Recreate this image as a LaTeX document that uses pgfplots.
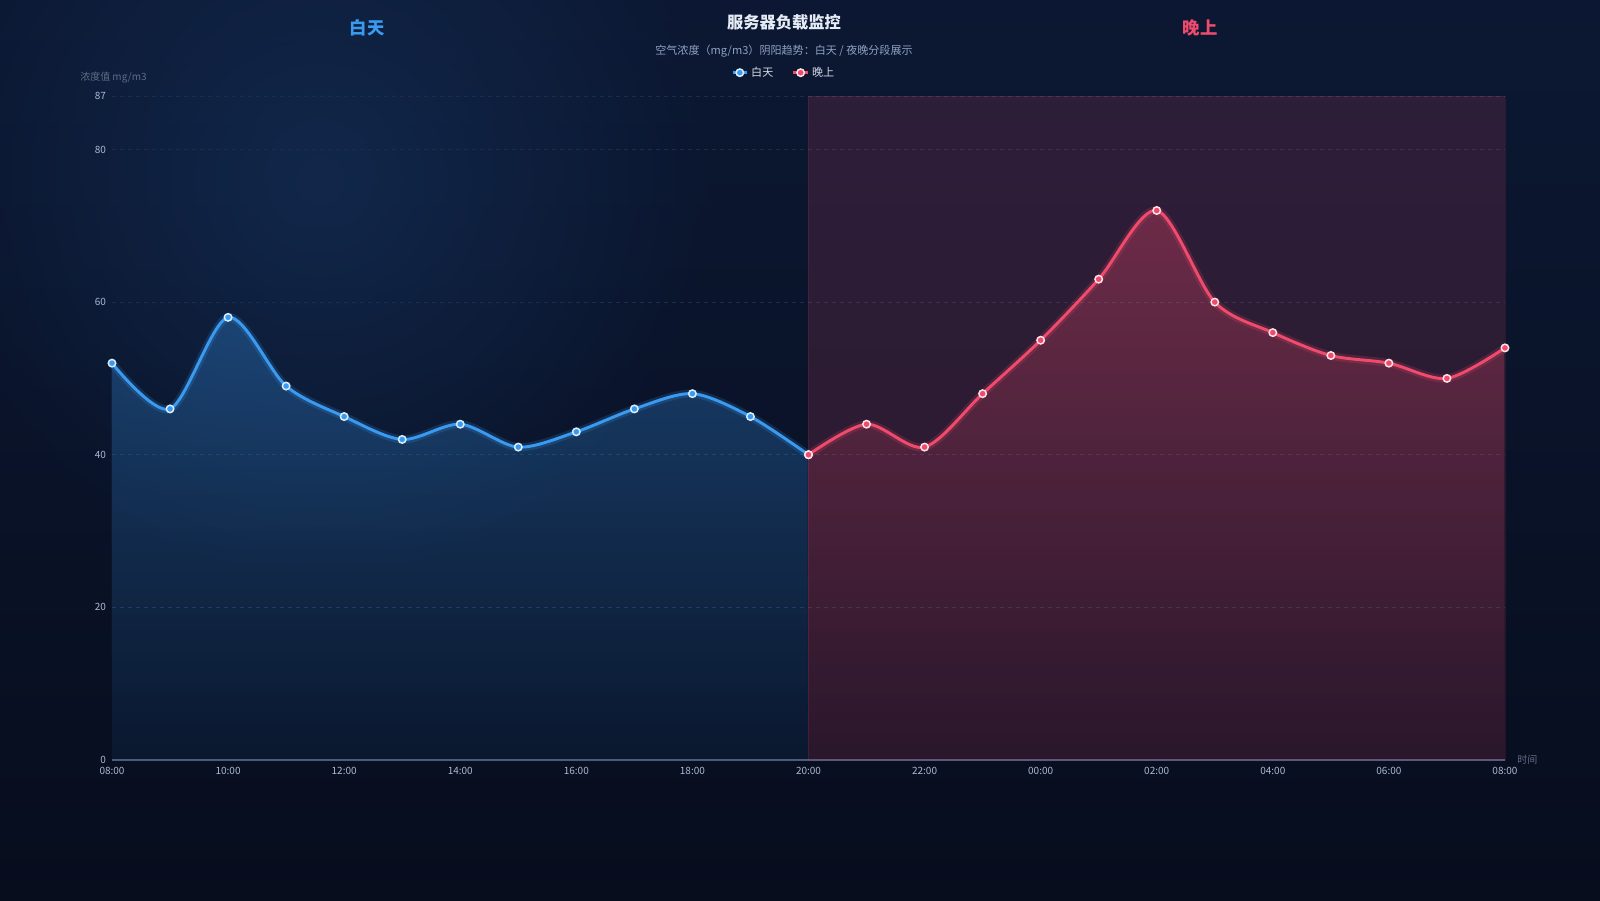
\documentclass[border=0pt]{standalone}
\usepackage{fontspec}
\setmainfont{Noto Sans CJK SC}
\usepackage{pgfplots}
\pgfplotsset{compat=1.18}
\usetikzlibrary{fadings}

\definecolor{bgtop}{HTML}{0C1833}
\definecolor{bgbot}{HTML}{070D1D}
\definecolor{glow}{HTML}{132C52}
\definecolor{dayblue}{HTML}{3A9AF0}
\definecolor{nightred}{HTML}{F04A6C}
\definecolor{ticktext}{HTML}{A9BAD6}
\definecolor{gridc}{HTML}{1E2C48}
\definecolor{namegray}{HTML}{5F6C86}
\definecolor{subc}{HTML}{8EA2C4}
\definecolor{titlec}{HTML}{E6ECF6}
\definecolor{xaxisc}{HTML}{4A5A7A}

\tikzfading[name=glowfade, inner color=transparent!0, outer color=transparent!100]

\begin{document}
\begin{tikzpicture}
\begin{scope}[x=0.75pt,y=-0.75pt]
  \shade[top color=bgtop,bottom color=bgbot] (0,0) rectangle (1600,900);
  \begin{scope}
    \clip (0,0) rectangle (1600,900);
    \fill[glow,path fading=glowfade,fill opacity=0.8] (320,180) circle (400);
  \end{scope}
  \node[font=\fontsize{12.2pt}{14pt}\selectfont\bfseries,text=titlec] at (784,22) {服务器负载监控};
  \node[font=\fontsize{8.3pt}{10pt}\selectfont,text=subc] at (784,51) {空气浓度（mg/m3）阴阳趋势：白天 / 夜晚分段展示};
  \node[font=\fontsize{13pt}{15pt}\selectfont\bfseries,text=dayblue] at (367,28) {白天};
  \node[font=\fontsize{13pt}{15pt}\selectfont\bfseries,text=nightred] at (1200,28) {晚上};
  \node[font=\fontsize{7.5pt}{9pt}\selectfont,text=namegray,anchor=west,inner sep=0pt] at (80,78) {浓度值 mg/m3};
  \node[font=\fontsize{7.5pt}{9pt}\selectfont,text=namegray,anchor=west,inner sep=0pt] at (1517,760) {时间};
\end{scope}

\begin{axis}[
    at={(84pt,-570pt)}, anchor=south west,
    scale only axis, width=1044.75pt, height=498pt,
    xmin=0, xmax=24, ymin=0, ymax=87,
    separate axis lines,
    axis x line*=bottom, axis y line*=left,
    x axis line style={draw=xaxisc,line width=0.8pt,-},
    y axis line style={draw=none},
    major tick length=0pt,
    xtick={0,2,...,24},
    xticklabels={08:00,10:00,12:00,14:00,16:00,18:00,20:00,22:00,00:00,02:00,04:00,06:00,08:00},
    ytick={0,20,40,60,80,87},
    ymajorgrids,
    grid style={draw=gridc,dashed,line width=0.6pt},
    ticklabel style={font=\fontsize{7.5pt}{9pt}\selectfont,text=ticktext},
    /pgf/number format/assume math mode=true,
    xticklabel style={yshift=-2pt},
    yticklabel style={xshift=-1pt},
    legend columns=2,
    legend style={at={(0.4824,1)},anchor=center,yshift=17.5pt,draw=none,fill=none,
      font=\fontsize{8.3pt}{10pt}\selectfont,text=titlec!80!subc,
      /tikz/every even column/.append style={column sep=12pt}},
    legend image code/.code={\draw[mark repeat=2,mark phase=2] plot coordinates {(0cm,0cm)(0.19cm,0cm)(0.38cm,0cm)};},
    clip=false
]
% night band
\fill[nightred,fill opacity=0.15] (axis cs:12,0) rectangle (axis cs:24,87);
\draw[nightred,opacity=0.12,line width=0.6pt] (axis cs:12,0) rectangle (axis cs:24,87);

% areas
\addplot[forget plot,draw=none,fill=dayblue,fill opacity=0.07,smooth,tension=0.5]
  coordinates {(0,52)(1,46)(2,58)(3,49)(4,45)(5,42)(6,44)(7,41)(8,43)(9,46)(10,48)(11,45)(12,40)} \closedcycle;
\addplot[forget plot,draw=none,fill=dayblue,fill opacity=0.26,path fading=south,smooth,tension=0.5]
  coordinates {(0,52)(1,46)(2,58)(3,49)(4,45)(5,42)(6,44)(7,41)(8,43)(9,46)(10,48)(11,45)(12,40)} \closedcycle;
\addplot[forget plot,draw=none,fill=nightred,fill opacity=0.33,path fading=south,smooth,tension=0.5]
  coordinates {(12,40)(13,44)(14,41)(15,48)(16,55)(17,63)(18,72)(19,60)(20,56)(21,53)(22,52)(23,50)(24,54)} \closedcycle;

% soft glow under the lines
\addplot[forget plot,dayblue,opacity=0.18,line width=6pt,smooth,tension=0.5]
  coordinates {(0,52)(1,46)(2,58)(3,49)(4,45)(5,42)(6,44)(7,41)(8,43)(9,46)(10,48)(11,45)(12,40)};
\addplot[forget plot,nightred,opacity=0.18,line width=6pt,smooth,tension=0.5]
  coordinates {(12,40)(13,44)(14,41)(15,48)(16,55)(17,63)(18,72)(19,60)(20,56)(21,53)(22,52)(23,50)(24,54)};

% lines
\addplot[dayblue,line width=2.2pt,smooth,tension=0.5,mark=*,mark size=2.8pt,
  mark options={fill=dayblue,draw=white!82!dayblue,line width=1.1pt}]
  coordinates {(0,52)(1,46)(2,58)(3,49)(4,45)(5,42)(6,44)(7,41)(8,43)(9,46)(10,48)(11,45)(12,40)};
\addlegendentry{白天}
\addplot[nightred,line width=2.2pt,smooth,tension=0.5,mark=*,mark size=2.8pt,
  mark options={fill=nightred,draw=white!85!nightred,line width=1.1pt}]
  coordinates {(12,40)(13,44)(14,41)(15,48)(16,55)(17,63)(18,72)(19,60)(20,56)(21,53)(22,52)(23,50)(24,54)};
\addlegendentry{晚上}
\end{axis}
\end{tikzpicture}
\end{document}
